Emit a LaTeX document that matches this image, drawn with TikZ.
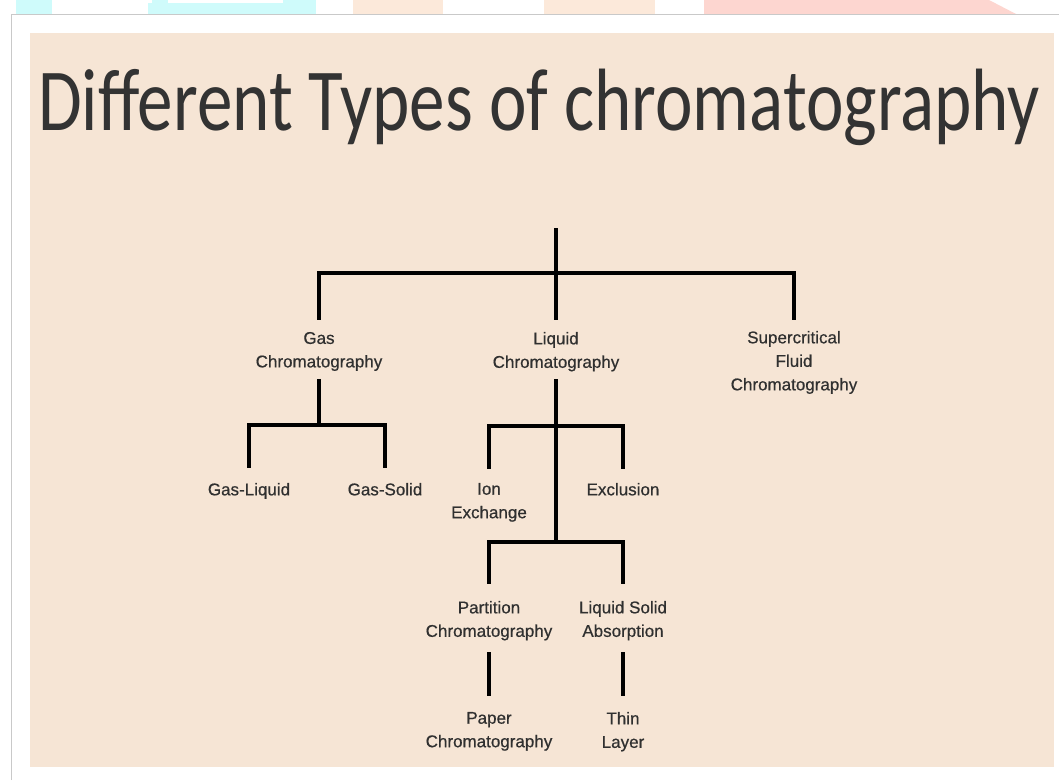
\documentclass[tikz,border=0pt]{standalone}
\usepackage{fontspec}
\setmainfont{Liberation Sans}
\newfontfamily\lblfont{Liberation Sans}[FakeBold=0.6]
\newfontfamily\titlefont{Carlito}
\definecolor{bg}{HTML}{F6E5D5}
\definecolor{txt}{HTML}{303030}
\definecolor{ttl}{HTML}{333333}
\definecolor{cyanbar}{HTML}{CFFBFB}
\definecolor{peachbar}{HTML}{FCE9DA}
\definecolor{pinkbar}{HTML}{FDD6D0}
\definecolor{frame}{HTML}{C9C9C9}
\tikzset{
  lbl/.style={anchor=north, inner sep=0pt, outer sep=0pt, align=center, text=txt,
    font=\lblfont\fontsize{17}{23.5}\selectfont},
  tree/.style={line width=4pt, black}
}
\begin{document}
\begin{tikzpicture}[x=1pt,y=-1pt]
\useasboundingbox (0,0) rectangle (1059,780);
\fill[white] (0,0) rectangle (1059,780);
% faint header remnants
\fill[cyanbar] (16,0) rectangle (52,14);
\fill[cyanbar] (148,3) rectangle (316,14);
\fill[cyanbar] (152,0) rectangle (168,3);
\fill[cyanbar] (283,0) rectangle (316,3);
\fill[peachbar] (353,0) rectangle (443,14);
\fill[peachbar] (544,0) rectangle (655,14);
\fill[pinkbar] (704,0) -- (989,0) -- (1016,14) -- (704,14) -- cycle;
% frame
\draw[frame, line width=1.2pt] (11.5,780) -- (11.5,14.5) -- (1059,14.5);
% beige panel
\fill[bg] (30,33) rectangle (1054,767);
% title
\node[anchor=base west, inner sep=0pt, text=ttl] (title) at (38,130)
  {\scalebox{0.803}[1]{\titlefont\fontsize{88.5}{90}\selectfont Different Types of chromatography}};
% labels
\node[lbl] (gas) at (319,332) {Gas\\Chromatography};
\node[lbl] (liquid) at (556,332) {Liquid\\Chromatography};
\node[lbl] (super) at (794,331) {Supercritical\\Fluid\\Chromatography};
\node[lbl] (gasliq) at (249,483) {Gas-Liquid};
\node[lbl] (gassol) at (385,483) {Gas-Solid};
\node[lbl] (ion) at (489,483) {Ion\\Exchange};
\node[lbl] (excl) at (623,483) {Exclusion};
\node[lbl] (part) at (489,601) {Partition\\Chromatography};
\node[lbl] (lsa) at (623,601) {Liquid Solid\\Absorption};
\node[lbl] (paper) at (489,712) {Paper\\Chromatography};
\node[lbl] (thin) at (623,712) {Thin\\Layer};
% junctions
\coordinate (root) at (556,228);
\coordinate (j0) at (556,273);
\coordinate (gj) at (319,425);
\coordinate (lj1) at (556,426);
\coordinate (lj2) at (556,542);
% connectors
\draw[tree] (root) -- (j0);
\draw[tree, shorten >=12pt] (j0) -| (gas.north);
\draw[tree, shorten >=12pt] (j0) -- (liquid.north);
\draw[tree, shorten >=11pt] (j0) -| (super.north);
\draw[tree, shorten <=8pt] (gas.south) -- (gj);
\draw[tree, shorten >=15pt] (gj) -| (gasliq.north);
\draw[tree, shorten >=15pt] (gj) -| (gassol.north);
\draw[tree, shorten <=8pt] (liquid.south) -- (lj2);
\draw[tree, shorten >=14pt] (lj1) -| (ion.north);
\draw[tree, shorten >=14pt] (lj1) -| (excl.north);
\draw[tree, shorten >=17pt] (lj2) -| (part.north);
\draw[tree, shorten >=17pt] (lj2) -| (lsa.north);
\draw[tree, shorten <=12pt, shorten >=16pt] (part.south) -- (paper.north);
\draw[tree, shorten <=12pt, shorten >=16pt] (lsa.south) -- (thin.north);
\end{tikzpicture}
\end{document}
